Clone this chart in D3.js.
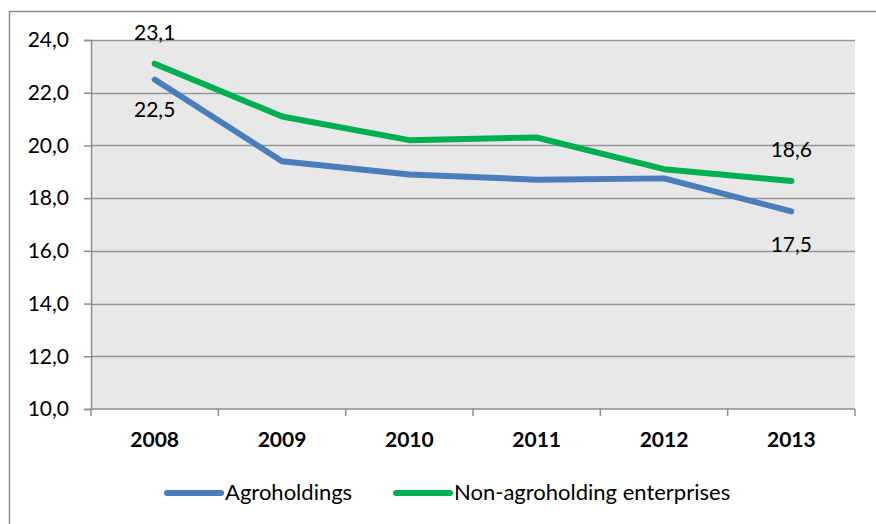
<!DOCTYPE html>
<html>
<head>
<meta charset="utf-8">
<script src="https://cdn.jsdelivr.net/npm/d3@7"></script>
<style>
  body { margin: 0; background: #fff; }
  text { font-family: Lato, "Open Sans", sans-serif; fill: #000; }
</style>
</head>
<body>
<svg id="chart" width="876" height="524"></svg>
<script>
var years = ["2008", "2009", "2010", "2011", "2012", "2013"];
var agroholdings = [22.5, 19.4, 18.9, 18.7, 18.75, 17.5];
var nonAgroholdings = [23.1, 21.1, 20.2, 20.3, 19.1, 18.65];
var yTicks = [10, 12, 14, 16, 18, 20, 22, 24];
var seriesNames = ["Agroholdings", "Non-agroholding enterprises"];
var seriesColors = ["#4a7ebb", "#00b050"];

var svg = d3.select("#chart");
var plot = { left: 91, right: 855, top: 40, bottom: 409 };
var fontSize = "21px";

// outer chart frame (clipped on the right and bottom)
svg.append("path")
  .attr("d", "M9.5,524 V11.5 H876")
  .attr("fill", "none")
  .attr("stroke", "#8c8c8c")
  .attr("stroke-width", 1.5);

var x = d3.scaleBand().domain(years).range([plot.left, plot.right]);
var y = d3.scaleLinear().domain([10, 24]).range([plot.bottom, plot.top]);
var fmt = function (v) { return d3.format(".1f")(v).replace(".", ","); };

svg.append("rect")
  .attr("x", plot.left).attr("y", plot.top)
  .attr("width", plot.right - plot.left).attr("height", plot.bottom - plot.top)
  .attr("fill", "#e8e8e8");

// gridlines
svg.append("g").selectAll("line")
  .data(yTicks.slice(1))
  .join("line")
    .attr("x1", plot.left).attr("x2", plot.right)
    .attr("y1", function (d) { return Math.round(y(d)) + 0.5; })
    .attr("y2", function (d) { return Math.round(y(d)) + 0.5; })
    .attr("stroke", "#969696").attr("stroke-width", 1.5);

// y axis
var yAxis = svg.append("g")
  .attr("transform", "translate(" + plot.left + ",0)")
  .call(d3.axisLeft(y).tickValues(yTicks).tickFormat(fmt).tickSize(7).tickPadding(15));
yAxis.selectAll("text").style("font-size", fontSize).style("font-family", "Lato");
yAxis.select(".domain").attr("stroke", "#8c8c8c").attr("stroke-width", 1.5);
yAxis.selectAll(".tick line").attr("stroke", "#8c8c8c").attr("stroke-width", 1.5);

// x axis with ticks at category boundaries
var xAxis = svg.append("g")
  .attr("transform", "translate(0," + plot.bottom + ")");
xAxis.append("line")
  .attr("x1", plot.left).attr("x2", plot.right)
  .attr("stroke", "#8c8c8c").attr("stroke-width", 1.5);
xAxis.selectAll(".bnd")
  .data(years.concat([null]))
  .join("line")
    .attr("class", "bnd")
    .attr("x1", function (d, i) { return plot.left + i * x.step(); })
    .attr("x2", function (d, i) { return plot.left + i * x.step(); })
    .attr("y1", 0).attr("y2", 7)
    .attr("stroke", "#8c8c8c").attr("stroke-width", 1.5);
xAxis.selectAll(".lbl")
  .data(years)
  .join("text")
    .attr("class", "lbl")
    .attr("x", function (d) { return x(d) + x.bandwidth() / 2; })
    .attr("y", 38)
    .attr("text-anchor", "middle")
    .style("font-size", fontSize)
    .style("font-weight", "bold")
    .text(function (d) { return d; });

// lines
var line = d3.line()
  .x(function (d, i) { return x(years[i]) + x.bandwidth() / 2; })
  .y(function (d) { return y(d); });

[agroholdings, nonAgroholdings].forEach(function (vals, k) {
  svg.append("path")
    .datum(vals)
    .attr("d", line)
    .attr("fill", "none")
    .attr("stroke", seriesColors[k])
    .attr("stroke-width", 6)
    .attr("stroke-linecap", "round")
    .attr("stroke-linejoin", "round");
});

// data labels at first and last points
var labels = [
  { v: nonAgroholdings[0], text: "23,1", i: 0, dy: -24 },
  { v: agroholdings[0], text: "22,5", i: 0, dy: 37 },
  { v: nonAgroholdings[5], text: "18,6", i: 5, dy: -24 },
  { v: agroholdings[5], text: "17,5", i: 5, dy: 41 }
];
svg.append("g").selectAll("text")
  .data(labels)
  .join("text")
    .attr("x", function (d) { return x(years[d.i]) + x.bandwidth() / 2; })
    .attr("y", function (d) { return y(d.v) + d.dy; })
    .attr("text-anchor", "middle")
    .style("font-size", fontSize)
    .text(function (d) { return d.text; });

// legend
var legendItems = [
  { name: seriesNames[0], color: seriesColors[0], x: 165 },
  { name: seriesNames[1], color: seriesColors[1], x: 394 }
];
var lg = svg.append("g").selectAll("g")
  .data(legendItems)
  .join("g")
    .attr("transform", function (d) { return "translate(" + d.x + ",493)"; });
lg.append("line")
  .attr("x1", 2).attr("x2", 56)
  .attr("stroke", function (d) { return d.color; })
  .attr("stroke-width", 6)
  .attr("stroke-linecap", "round");
lg.append("text")
  .attr("x", 60).attr("y", 7)
  .style("font-size", "22px")
  .text(function (d) { return d.name; });
</script>
</body>
</html>
